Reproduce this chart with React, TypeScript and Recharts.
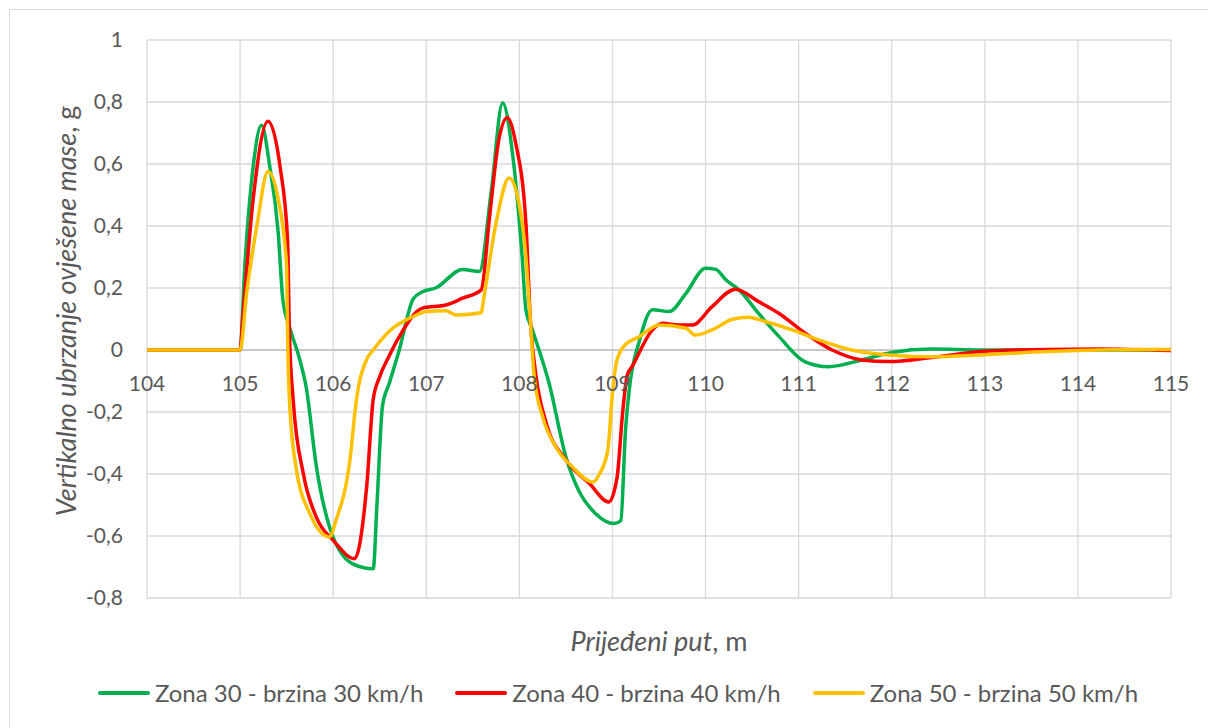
import React from 'react';
import { LineChart, Line, XAxis, YAxis, CartesianGrid, ReferenceLine, Label } from 'recharts';

// distance travelled (m) and vertical acceleration of the sprung mass (g)
const xTicks = [104, 105, 106, 107, 108, 109, 110, 111, 112, 113, 114, 115];
const yTicks = [-0.8, -0.6, -0.4, -0.2, 0, 0.2, 0.4, 0.6, 0.8, 1];

const zona30X = [104, 105, 105.05, 105.14, 105.23, 105.32, 105.41, 105.46, 105.53, 105.64, 105.71, 105.82, 105.96, 106.21, 106.43, 106.47, 106.53, 106.6, 106.71, 106.86, 106.96, 107.1, 107.39, 107.57, 107.7, 107.82, 107.93, 108.03, 108.07, 108.14, 108.32, 108.5, 108.64, 108.82, 109.02, 109.09, 109.14, 109.18, 109.29, 109.43, 109.61, 109.79, 110.0, 110.11, 110.22, 110.36, 110.57, 110.79, 111.07, 111.32, 111.68, 112.0, 112.43, 112.96, 115];
const zona30Y = [0, 0, 0.27, 0.59, 0.725, 0.59, 0.377, 0.16, 0.075, -0.03, -0.12, -0.377, -0.57, -0.69, -0.706, -0.5, -0.18, -0.11, 0.0, 0.165, 0.188, 0.2, 0.26, 0.253, 0.517, 0.797, 0.625, 0.3, 0.13, 0.065, -0.108, -0.345, -0.455, -0.528, -0.56, -0.55, -0.26, -0.13, 0.03, 0.13, 0.124, 0.183, 0.264, 0.26, 0.226, 0.194, 0.118, 0.043, -0.038, -0.054, -0.032, -0.008, 0.003, 0, 0];

const zona40X = [104, 105, 105.03, 105.14, 105.3, 105.43, 105.51, 105.53, 105.57, 105.68, 105.82, 106.0, 106.23, 106.36, 106.43, 106.5, 106.6, 106.71, 106.96, 107.21, 107.39, 107.59, 107.68, 107.78, 107.87, 107.96, 108.07, 108.12, 108.18, 108.29, 108.5, 108.75, 108.96, 109.05, 109.11, 109.16, 109.21, 109.43, 109.54, 109.71, 109.86, 110.07, 110.32, 110.57, 110.79, 111.07, 111.36, 111.68, 111.97, 112.43, 112.96, 113.68, 114.2, 115];
const zona40Y = [0, 0, 0.108, 0.485, 0.738, 0.59, 0.355, 0.054, -0.16, -0.4, -0.54, -0.614, -0.673, -0.44, -0.16, -0.086, -0.02, 0.043, 0.135, 0.145, 0.167, 0.194, 0.43, 0.679, 0.749, 0.668, 0.41, 0.086, -0.086, -0.237, -0.355, -0.43, -0.49, -0.41, -0.2, -0.08, -0.054, 0.065, 0.086, 0.081, 0.081, 0.14, 0.196, 0.156, 0.118, 0.054, 0.0, -0.032, -0.037, -0.024, -0.005, 0.002, 0.003, -0.002];

const zona50X = [104, 105, 105.07, 105.18, 105.3, 105.41, 105.5, 105.51, 105.53, 105.6, 105.75, 105.96, 106.03, 106.18, 106.25, 106.36, 106.43, 106.6, 106.86, 107.0, 107.21, 107.32, 107.59, 107.62, 107.75, 107.89, 107.98, 108.07, 108.12, 108.16, 108.25, 108.39, 108.57, 108.79, 108.86, 108.95, 109.0, 109.04, 109.12, 109.29, 109.5, 109.79, 109.89, 110.07, 110.29, 110.46, 110.64, 110.93, 111.22, 111.5, 111.97, 112.43, 112.96, 113.68, 114.22, 115];
const zona50Y = [0, 0, 0.183, 0.4, 0.576, 0.485, 0.27, 0.054, -0.16, -0.377, -0.528, -0.603, -0.55, -0.355, -0.16, -0.03, 0.0, 0.06, 0.108, 0.124, 0.127, 0.113, 0.12, 0.172, 0.41, 0.555, 0.496, 0.3, 0.086, -0.086, -0.215, -0.312, -0.377, -0.426, -0.4, -0.323, -0.14, -0.043, 0.011, 0.043, 0.081, 0.07, 0.048, 0.065, 0.099, 0.106, 0.092, 0.065, 0.032, 0.005, -0.016, -0.022, -0.016, -0.005, 0, 0.002];

const toPoints = (xs: number[], ys: number[]) => xs.map((x, i) => ({ x, y: ys[i] }));

const series = [
  { name: 'Zona 30 - brzina 30 km/h', color: '#00B050', data: toPoints(zona30X, zona30Y) },
  { name: 'Zona 40 - brzina 40 km/h', color: '#FF0000', data: toPoints(zona40X, zona40Y) },
  { name: 'Zona 50 - brzina 50 km/h', color: '#FFC000', data: toPoints(zona50X, zona50Y) },
];

const W = 1208;
const H = 728;
const margin = { top: 40, right: 37, bottom: 100, left: 87 };
const plotH = H - margin.top - margin.bottom - 30;
const yMin = -0.8;
const yMax = 1;
const zeroFromBottom = (plotH * (0 - yMin)) / (yMax - yMin);

const font = 'Lato, "Open Sans", sans-serif';
const textColor = '#595959';

const XTick = (props: any) => {
  const { x, y, payload } = props;
  // Excel puts the category labels just under the zero line
  const ty = y - 8 - zeroFromBottom + 32;
  return (
    <text x={x} y={ty} textAnchor="middle" dominantBaseline="central" fill={textColor} fontSize={21} fontFamily={font}>
      {payload.value}
    </text>
  );
};

const fmtY = (v: number) => String(Math.round(v * 10) / 10).replace('.', ',');

export default function App() {
  return (
    <div style={{ position: 'absolute', left: 0, top: 0, width: W, height: H, background: '#fff', overflow: 'hidden' }}>
      <div style={{ position: 'absolute', left: 9, top: 9, width: 1300, height: 800, border: '1px solid #d9d9d9' }} />
      <LineChart width={W} height={H} margin={margin} style={{ position: 'absolute', left: 0, top: 0 }}>
        <CartesianGrid stroke="#d9d9d9" strokeWidth={1.3} />
        <XAxis
          type="number"
          dataKey="x"
          domain={[104, 115]}
          ticks={xTicks}
          allowDataOverflow
          height={30}
          axisLine={false}
          tickLine={false}
          tick={<XTick />}
        >
          <Label
            content={(p: any) => {
              const vb = p.viewBox;
              return (
                <text x={vb.x + vb.width / 2} y={vb.y + 42} textAnchor="middle" dominantBaseline="central" fill={textColor} fontSize={27} fontFamily={font}>
                  <tspan fontStyle="italic">Prijeđeni put</tspan>
                  <tspan>, m</tspan>
                </text>
              );
            }}
          />
        </XAxis>
        <YAxis
          type="number"
          domain={[yMin, yMax]}
          ticks={yTicks}
          width={60}
          axisLine={false}
          tickLine={false}
          tickMargin={18}
          tickFormatter={fmtY}
          tick={{ fill: textColor, fontSize: 21, fontFamily: font }}
        >
          <Label
            content={(p: any) => {
              const vb = p.viewBox;
              const cx = vb.x - 22;
              const cy = vb.y + vb.height / 2 - 8;
              return (
                <text x={cx} y={cy} transform={`rotate(-90 ${cx} ${cy})`} textAnchor="middle" dominantBaseline="central" fill={textColor} fontSize={27} fontFamily={font}>
                  <tspan fontStyle="italic">Vertikalno ubrzanje ovješene mase</tspan>
                  <tspan>, g</tspan>
                </text>
              );
            }}
          />
        </YAxis>
        <ReferenceLine y={0} stroke="#bfbfbf" strokeWidth={1.5} />
        {series.map((s) => (
          <Line
            key={s.name}
            data={s.data}
            dataKey="y"
            name={s.name}
            type="monotone"
            stroke={s.color}
            strokeWidth={3.5}
            dot={false}
            activeDot={false}
            isAnimationActive={false}
          />
        ))}
      </LineChart>
      <div
        style={{
          position: 'absolute',
          left: 14,
          top: 678,
          width: W,
          display: 'flex',
          justifyContent: 'center',
          gap: 32,
          fontFamily: font,
          fontSize: 24,
          color: textColor,
        }}
      >
        {series.map((s) => (
          <div key={s.name} style={{ display: 'flex', alignItems: 'center' }}>
            <span style={{ display: 'inline-block', width: 52, height: 4, background: s.color, borderRadius: 2, marginRight: 5 }} />
            <span>{s.name}</span>
          </div>
        ))}
      </div>
    </div>
  );
}
